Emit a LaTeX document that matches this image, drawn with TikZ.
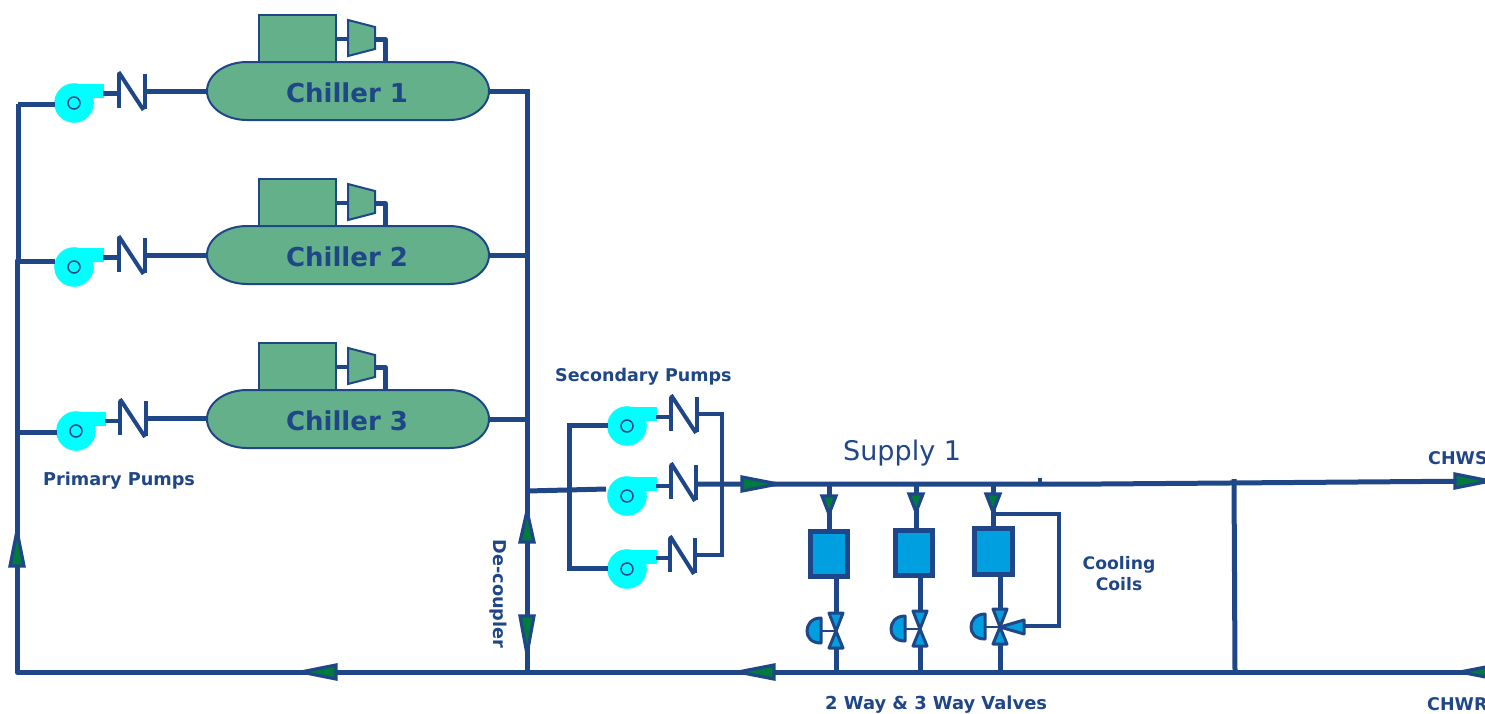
\documentclass[tikz,border=0pt]{standalone}
\usepackage{fontspec}
\setmainfont{DejaVu Sans}
\usetikzlibrary{calc}
\definecolor{navy}{HTML}{1F4788}
\definecolor{chgreen}{HTML}{63B08A}
\definecolor{arrgreen}{HTML}{007A3D}
\definecolor{pumpcyan}{HTML}{00FFFF}
\definecolor{coilblue}{HTML}{00A0E0}
\tikzset{
  pipe/.style={draw=navy,line width=5pt},
  thinpipe/.style={draw=navy,line width=4.2pt},
  vbar/.style={draw=navy,line width=4pt},
  outline/.style={draw=navy,line width=2pt,fill=chgreen},
  flow/.style={draw=navy,line width=3.2pt,fill=arrgreen,line join=miter},
  coilbox/.style={draw=navy,line width=4.6pt,fill=coilblue,minimum width=37.5pt,minimum height=45.5pt,inner sep=0pt},
  valvetri/.style={draw=navy,line width=3pt,fill=coilblue,line join=round},
  lbl/.style={text=navy,font=\bfseries\fontsize{17.5}{21}\selectfont,inner sep=0pt,align=center},
  lblwide/.style={text=navy,font=\bfseries\fontsize{17.7}{21}\selectfont,inner sep=0pt,align=center},
  chlbl/.style={text=navy,font=\bfseries\fontsize{26}{32}\selectfont,minimum width=282pt,minimum height=58pt,inner sep=0pt}
}
% tip x, tip y, base x, base y, half width
\newcommand{\FlowArrow}[6]{%
  \coordinate (#1-t) at (#2,#3);
  \coordinate (#1-b) at (#4,#5);
  \path[flow] (#1-t) -- ($(#1-b)!#6pt!90:(#1-t)$) -- ($(#1-b)!#6pt!-90:(#1-t)$) -- cycle;
}
% name, cx, cy
\newcommand{\Pump}[3]{%
  \fill[pumpcyan] (#2,#3) circle (19.8);
  \fill[pumpcyan] (#2,#3-18.8) rectangle (#2+30,#3-5);
  \fill[pumpcyan] (#2,#3-18.8) -- (#2+19,#3-18.8) -- (#2+19,#3+3) -- (#2,#3) -- cycle;
  \node[circle,draw=navy,line width=1.5pt,minimum size=12pt,inner sep=0pt] (#1) at (#2,#3) {};
  \coordinate (#1-in) at (#2-19,#3);
  \coordinate (#1-out) at (#2+29,#3-9);
}
% name, xl, xr, ytop, yin, yout
\newcommand{\CheckV}[6]{%
  \coordinate (#1-l) at (#2,#5);
  \coordinate (#1-r) at (#3,#6);
  \draw[vbar] (#2,#4+2) -- (#2,#4+36);
  \draw[vbar] (#2,#4) -- (#3-1,#4+38);
  \draw[vbar] (#3,#4+2) -- (#3,#4+37);
}
% name, y offset, label
\newcommand{\ChillerUnit}[3]{%
  \begin{scope}[shift={(0,#2)}]
    \draw[outline] (247,62) -- (449,62) .. controls (471,62) and (489,75) .. (489,91)
      .. controls (489,107) and (471,120) .. (449,120) -- (247,120)
      .. controls (225,120) and (207,107) .. (207,91)
      .. controls (207,75) and (225,62) .. (247,62) -- cycle;
    \node[outline,minimum width=77pt,minimum height=47pt,inner sep=0pt] (#1-motor) at (297.5,38.5) {};
    \node[chlbl] (#1) at (347,93) {#3};
    \coordinate (#1-ci) at (348,39);
    \coordinate (#1-co) at (375,39.5);
    \coordinate (#1-cc) at (385.5,39.5);
    \coordinate (#1-cd) at (385.5,62);
    \draw[thinpipe] (#1-motor.east |- #1-ci) -- (#1-ci);
    \draw[pipe,line join=round] (#1-co) -- (#1-cc) -- (#1-cd);
    \draw[outline] (348,20) -- (375,27) -- (375,49) -- (348,56) -- cycle;
  \end{scope}
}
% name, x, cy
\newcommand{\CtlV}[3]{%
  \coordinate (#1-c) at (#2,#3);
  \coordinate (#1-t) at (#2,#3-18);
  \coordinate (#1-b) at (#2,#3+18);
  \draw[thinpipe,line width=2.6pt] (#1-c) -- (#2-15,#3);
  \draw[valvetri] (#2-15,#3-13) .. controls (#2-25,#3-13) and (#2-29,#3-6) .. (#2-29,#3)
     .. controls (#2-29,#3+6) and (#2-25,#3+12) .. (#2-15,#3+12) -- cycle;
  \draw[valvetri] (#1-c) -- (#2-7,#3-18) -- (#2+7,#3-18) -- cycle;
  \draw[valvetri] (#1-c) -- (#2-7,#3+17) -- (#2+7,#3+17) -- cycle;
}
\begin{document}
\begin{tikzpicture}[x=1pt,y=-1pt]
\useasboundingbox (0,0) rectangle (1485,713);
\clip (0,0) rectangle (1485,713);

% junction coordinates
\coordinate (lt1) at (18,104);
\coordinate (lt2) at (17,261);
\coordinate (lt3) at (17,432);
\coordinate (cornerBL) at (17,672);
\coordinate (rtop) at (527,91);
\coordinate (r2) at (527,255);
\coordinate (r3) at (527,419);
\coordinate (rmix) at (527,491);
\coordinate (rbot) at (527,672);
\coordinate (retEnd) at (1485,672);
\coordinate (supStart) at (697,484);
\coordinate (supMid) at (1100,484);
\coordinate (supEnd) at (1485,481);
\coordinate (brT) at (1234,479);
\coordinate (brB) at (1235,672);
\coordinate (tickT) at (1040,478);
\coordinate (tickB) at (1040,484);
\coordinate (secLT) at (569,425);
\coordinate (secLB) at (569,568);
\coordinate (secRT) at (722,414);
\coordinate (secRB) at (722,555);

\ChillerUnit{c1}{0}{Chiller 1}
\ChillerUnit{c2}{164}{Chiller 2}
\ChillerUnit{c3}{328}{Chiller 3}

\Pump{p1}{74}{103}
\Pump{p2}{74}{267}
\Pump{p3}{76}{431}
\Pump{s1}{627}{426}
\Pump{s2}{627}{496}
\Pump{s3}{627}{569}

\CheckV{v1}{118.6}{144.5}{72}{93.5}{91}
\CheckV{v2}{118.6}{144.5}{236}{257.5}{255}
\CheckV{v3}{120}{146}{399}{421}{418}
\CheckV{w1}{671}{697}{395}{417}{414}
\CheckV{w2}{671}{696}{463}{486}{484}
\CheckV{w3}{670}{695}{536}{558}{555}

% primary loop
\draw[pipe,line cap=round,line join=round] (rbot) -- (cornerBL) -- (lt3) -- (lt2);
\draw[pipe] (lt1) -- (18,262);
\draw[pipe] (lt1) -- (p1-in |- lt1);
\draw[pipe] (lt2) -- (p2-in |- lt2);
\draw[pipe] (lt3) -- (p3-in |- lt3);
\draw[thinpipe] (p1-out |- v1-l) -- (v1-l);
\draw[thinpipe] (p2-out |- v2-l) -- (v2-l);
\draw[thinpipe] (p3-out |- v3-l) -- (v3-l);
\draw[pipe] (v1-r) -- (c1.west |- v1-r);
\draw[pipe] (v2-r) -- (c2.west |- v2-r);
\draw[pipe] (v3-r) -- (c3.west |- v3-r);
\draw[pipe,line join=miter] (c1.east |- rtop) -- (rtop) -- (rbot);
\draw[pipe] (c2.east |- r2) -- (r2);
\draw[pipe] (c3.east |- r3) -- (r3);

% secondary pumps
\draw[pipe] (rmix) -- (606,489);
\draw[pipe] (s1-in |- secLT) -- (secLT) -- (secLB) -- (s3-in |- secLB);
\draw[thinpipe] (s1-out |- w1-l) -- (w1-l);
\draw[thinpipe] (s2-out |- w2-l) -- (w2-l);
\draw[thinpipe] (s3-out |- w3-l) -- (w3-l);
\draw[thinpipe] (w1-r) -- (secRT) -- (secRB) -- (w3-r);

% supply and return
\draw[pipe] (supStart) -- (supMid) -- (supEnd);
\draw[thinpipe] (tickT) -- (tickB);
\draw[pipe] (brT) -- (brB);
\draw[pipe] (rbot) -- (retEnd);

% coils
\node[coilbox] (k1) at (829,554) {};
\node[coilbox] (k2) at (914,553) {};
\node[coilbox] (k3) at (993.5,551.5) {};
\coordinate (m1) at (829,484);
\coordinate (m2) at (916,484);
\coordinate (m3) at (993,484);
\draw[pipe] (m1) -- (k1.north);
\draw[pipe] (m2) -- (m2 |- k2.north);
\draw[pipe] (m3) -- (m3 |- k3.north);

\CtlV{x1}{836}{631}
\CtlV{x2}{920}{629}
\CtlV{x3}{1000}{627}
\draw[pipe] (x1-t |- k1.south) -- (x1-t);
\draw[pipe] (x2-t |- k2.south) -- (x2-t);
\draw[pipe] (x3-t |- k3.south) -- (x3-t);
\draw[pipe] (x1-b) -- (x1-b |- rbot);
\draw[pipe] (x2-b) -- (x2-b |- rbot);
\draw[pipe] (x3-b) -- (x3-b |- rbot);

% three-way bypass
\coordinate (byT) at (1059,514);
\coordinate (byB) at (1059,626);
\draw[thinpipe] (m3 |- byT) -- (1061,514);
\draw[thinpipe] (byT) -- (byB) -- (1024,626);
\draw[valvetri] (x3-c) -- (1024,620) -- (1024,634) -- cycle;

% flow arrows
\FlowArrow{a1}{17}{531}{17}{566}{7}
\FlowArrow{a2}{527}{511}{527}{542}{7}
\FlowArrow{a3}{527}{654}{527}{616}{7}
\FlowArrow{a4}{301}{672}{336}{672}{7}
\FlowArrow{a5}{738}{672}{774}{672}{7}
\FlowArrow{a6}{1460}{672}{1496}{672}{7}
\FlowArrow{a7}{778}{484}{742}{484}{7}
\FlowArrow{a8}{1490}{481}{1455}{481}{7}
\FlowArrow{a9}{829}{514}{829}{496}{7}
\FlowArrow{a10}{916}{512}{916}{494}{7}
\FlowArrow{a11}{993}{512}{993}{494}{7}

% labels
\node[lblwide,anchor=west] (tPrim) at (43,481) {Primary Pumps};
\node[lbl,anchor=west] (tSec) at (555,377) {Secondary Pumps};
\node[lblwide,rotate=-90] (tDec) at (498,594) {De-coupler};
\node[anchor=west,inner sep=0pt,text=navy,font=\fontsize{27}{32}\selectfont] (tSup) at (843,453.5) {Supply 1};
\node[lbl,font=\bfseries\fontsize{17.2}{21}\selectfont] (tCool) at (1119,574) {Cooling\\Coils};
\node[lbl,font=\bfseries\fontsize{17.9}{21}\selectfont,anchor=west] (tVal) at (825,705) {2 Way \& 3 Way Valves};
\node[lbl,anchor=west] (tS) at (1428,458) {CHWS};
\node[lbl,anchor=west] (tR) at (1427,704) {CHWR};
\end{tikzpicture}
\end{document}
